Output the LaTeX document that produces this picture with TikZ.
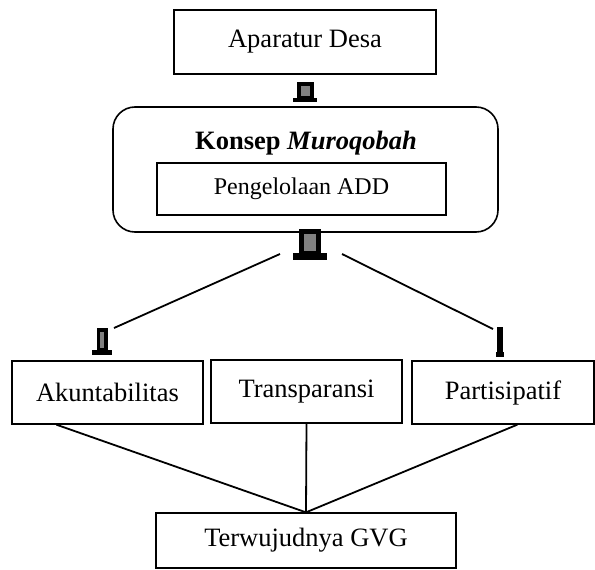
\documentclass[tikz,border=0pt]{standalone}
\usepackage{fontspec}
\setmainfont{Liberation Serif}
\usetikzlibrary{calc, positioning}

\tikzset{
    box/.style={draw, line width=1.3pt, fill=white, inner sep=0pt, font=\fontsize{26.5}{30}\selectfont},
    roundbox/.style={draw, line width=1.6pt, rounded corners=22pt, inner sep=0pt},
    pillarcol/.style={draw=black, fill=gray},
    link/.style={line width=1.8pt}
}

% x, column top, base top, base bottom, half column, half base, outline
\newcommand{\pillar}[7]{%
    \fill [black] (#1-#6,#3) rectangle (#1+#6,#4);
    \draw [pillarcol, line width=#7pt] (#1-#5,#2) rectangle (#1+#5,#3);
}

\begin{document}
\begin{tikzpicture}[x=1pt, y=-1pt]
        \useasboundingbox (0,0) rectangle (595,570);

        \node [box, minimum width=262pt, minimum height=64pt] (Ndesa) at (305, 42) {Aparatur Desa};

        \node [roundbox, minimum width=385pt, minimum height=125pt] (Nkonsep) at (305.5, 169.5) {};
        \node [font=\fontsize{26.5}{30}\selectfont] (Ntitle) at (306, 143) {\textbf{Konsep \textit{Muroqobah}}};
        \node [box, minimum width=289pt, minimum height=52pt, font=\fontsize{24}{28}\selectfont] (Nadd) at (301.5, 189) {Pengelolaan ADD};

        \node [box, minimum width=191pt, minimum height=63pt] (Nakun) at (107.5, 392.5) {Akuntabilitas};
        \node [box, minimum width=191pt, minimum height=63pt] (Ntrans) at (306.5, 391.5) {\raisebox{5pt}{Transparansi}};
        \node [box, minimum width=182pt, minimum height=63pt] (Npart) at (503, 392.5) {Partisipatif};

        \node [box, minimum width=300pt, minimum height=55pt] (Ngvg) at (306, 540.5) {Terwujudnya GVG};

        \pillar{305}{84}{98}{102}{6.5}{12}{4}
        \pillar{310}{231.5}{253}{260}{8.5}{17}{5}
        \pillar{102}{330}{350}{355}{3.75}{10}{3.5}
        \pillar{500}{328}{352}{357}{1.5}{4}{3}

        \coordinate (Cl1) at (280, 254);
        \coordinate (Cl2) at (114, 328);
        \coordinate (Cr1) at (342, 254);
        \coordinate (Cr2) at (493, 329);
        \draw [link] (Cl1) -- (Cl2);
        \draw [link] (Cr1) -- (Cr2);

        \coordinate (Cak) at ([xshift=45pt]Nakun.south west);
        \coordinate (Cpa) at ([xshift=106pt]Npart.south west);
        \draw [link] (Cak) -- (Ngvg.north);
        \draw [link] (Ntrans.south) -- (Ngvg.north);
        \draw [link] (Cpa) -- (Ngvg.north);
    \end{tikzpicture}
\end{document}
